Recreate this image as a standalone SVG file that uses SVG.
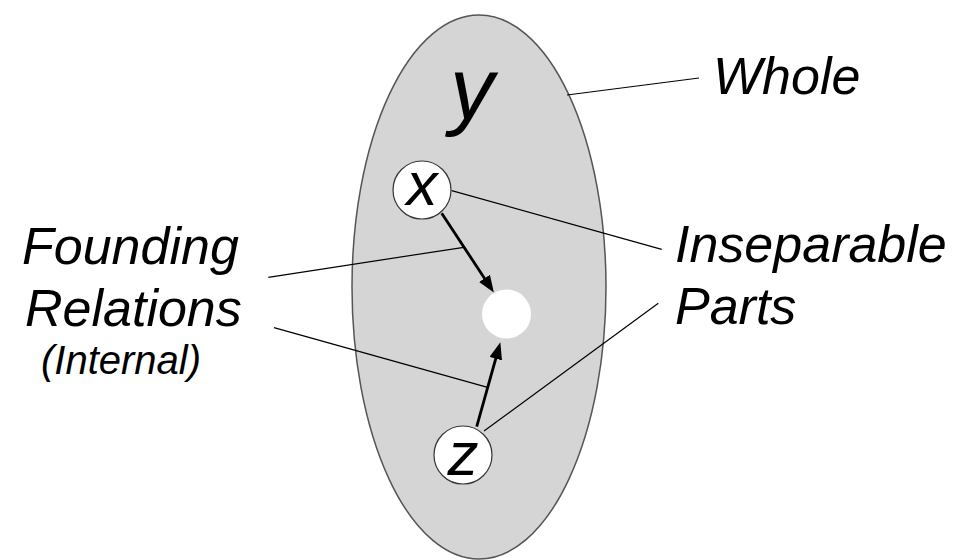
<svg xmlns="http://www.w3.org/2000/svg" width="960" height="560" viewBox="0 0 960 560">
<defs>
<style>
.lbl{font-family:"Liberation Sans",Arial,sans-serif;font-style:italic;fill:#000}
.big{font-size:52px}
.lead{stroke:#000;stroke-width:1.2;fill:none}
.arr{stroke:#000;stroke-width:2.8;fill:none}
.node{fill:#fff;stroke:#333;stroke-width:1.2}
</style>
<marker id="ah" markerUnits="userSpaceOnUse" markerWidth="17" markerHeight="13" refX="8" refY="6.5" orient="auto">
<path d="M0,0 L17,6.5 L0,13 z" fill="#000"/>
</marker>
</defs>
<rect width="960" height="560" fill="#fff"/>
<g id="whole">
<ellipse cx="479" cy="287" rx="127" ry="272" fill="#d5d5d5" stroke="#555" stroke-width="1.5"/>
<text class="lbl" x="450" y="119" font-size="88">y</text>
</g>
<g id="node-x">
<circle class="node" cx="422" cy="190" r="29"/>
<text class="lbl" x="422" y="205" font-size="62" text-anchor="middle">x</text>
</g>
<g id="node-blank">
<circle cx="506.5" cy="314" r="24.5" fill="#fff"/>
</g>
<g id="node-z">
<circle class="node" cx="463" cy="455" r="29"/>
<text class="lbl" x="463" y="475" font-size="62" text-anchor="middle">z</text>
</g>
<g id="connectors">
<line class="arr" x1="441.7" y1="213.3" x2="488.9" y2="285" marker-end="url(#ah)"/>
<line class="arr" x1="476.7" y1="426.7" x2="497.9" y2="351" marker-end="url(#ah)"/>
<line class="lead" x1="567" y1="95" x2="699" y2="78"/>
<line class="lead" x1="451.7" y1="190.7" x2="661.7" y2="249.3"/>
<line class="lead" x1="484" y1="431" x2="658.3" y2="303.3"/>
<line class="lead" x1="268.3" y1="277.3" x2="463.8" y2="247.3"/>
<line class="lead" x1="274" y1="327.7" x2="487.6" y2="387.3"/>
</g>
<g id="labels">
<text class="lbl big" x="713" y="94">Whole</text>
<text class="lbl big" x="675" y="262">Inseparable</text>
<text class="lbl big" x="675" y="324">Parts</text>
<text class="lbl big" x="22" y="264">Founding</text>
<text class="lbl big" x="25" y="326">Relations</text>
<text class="lbl" x="41" y="374" font-size="40">(Internal)</text>
</g>
</svg>
